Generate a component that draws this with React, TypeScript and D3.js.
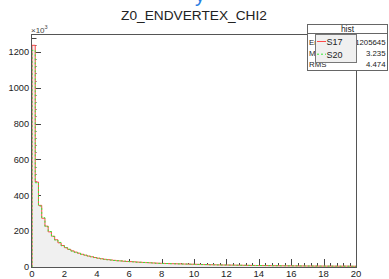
import React from "react";
import * as d3 from "d3";

// bin contents, units of 10^3, 100 bins from 0 to 20
const S17 = [
  1237, 474, 344, 272, 228, 196, 172, 152, 135, 120,
  108, 98, 90, 83, 77, 71, 66, 61, 57, 53,
  49, 46, 43, 41, 39, 37, 35, 34, 32, 31,
  30, 29, 27.5, 26.5, 25.5, 24.5, 23.5, 22.5, 21.5, 20.5,
  20, 19.5, 19, 18.5, 18, 17.5, 17, 16.5, 16, 15.5,
  15, 14.5, 14, 13.5, 13, 12.5, 12.2, 11.8, 11.5, 11.2,
  11, 10.7, 10.4, 10.1, 9.8, 9.5, 9.2, 8.9, 8.6, 8.4,
  8.2, 8, 7.8, 7.6, 7.4, 7.2, 7, 6.8, 6.6, 6.5,
  6.4, 6.2, 6, 5.9, 5.8, 5.6, 5.5, 5.4, 5.3, 5.2,
  5.1, 5, 4.9, 4.8, 4.7, 4.6, 5.2, 5.0, 4.3, 4.2,
];
const S20 = [
  1209, 470, 340, 275, 225, 198, 170, 150, 137, 118,
  107, 99, 89, 82, 78, 70, 66, 60, 57, 52,
  49, 45.5, 43, 40.5, 39, 36.5, 35, 33.5, 32, 30.5,
  29.5, 29, 27, 26.5, 25, 24.5, 23, 22.5, 21, 20.5,
  19.5, 19.5, 18.5, 18.5, 17.5, 17.5, 16.5, 16.5, 15.5, 15.5,
  14.5, 14.5, 13.5, 13.5, 12.5, 12.5, 12, 11.8, 11.2, 11.2,
  10.8, 10.7, 10.2, 10.1, 9.6, 9.5, 9, 8.9, 8.5, 8.4,
  8, 8, 7.6, 7.6, 7.2, 7.2, 6.8, 6.8, 6.5, 6.5,
  6.2, 6.2, 5.9, 5.9, 5.6, 5.6, 5.4, 5.4, 5.2, 5.2,
  5, 5, 4.8, 4.8, 4.6, 4.6, 4.5, 4.5, 4.2, 4.2,
];
const xTicks = [0, 2, 4, 6, 8, 10, 12, 14, 16, 18, 20];
const yTicks = [0, 200, 400, 600, 800, 1000, 1200];
const statsLabels = ["Entries", "Mean", "RMS"];
const statsValues = ["1205645", "3.235", "4.474"];
const legendNames = ["S17", "S20"];

const W = 389, H = 279;
const margin = { top: 34, right: 33, bottom: 12, left: 32 };
const font = "'Liberation Sans', Arial, sans-serif";

export default function App() {
  const x = d3.scaleLinear().domain([0, 20]).range([margin.left, W - margin.right]);
  const y = d3.scaleLinear().domain([0, 1300]).range([H - margin.bottom, margin.top]);
  const binW = 20 / S17.length;

  const pts = (vals: number[]) => {
    const p = vals.map((v, i) => [i * binW, v] as [number, number]);
    p.push([20, vals[vals.length - 1]]);
    return p;
  };
  const area = d3.area<[number, number]>()
    .x(d => x(d[0])).y0(y(0)).y1(d => y(d[1]))
    .curve(d3.curveStepAfter);
  const line = d3.line<[number, number]>()
    .x(d => x(d[0])).y(d => y(d[1]))
    .curve(d3.curveStepAfter);
  const withBase = (vals: number[]) => [[0, 0] as [number, number], ...pts(vals), [20, 0] as [number, number]];

  const yMinor = d3.range(0, 1300, 40);
  const xMinor = d3.range(0, 20.01, 0.4);
  const x0 = x(0), x1 = x(20), y0 = y(0), yTop = margin.top;

  return (
    <svg width={W} height={H} style={{ position: "absolute", left: 0, top: 0, background: "#fff" }}
      fontFamily={font}>
      {/* fragment of upper text in blue */}
      <text x={200} y={2} fontSize={20} fill="#2a7de1" textAnchor="middle">y</text>
      <text x={194} y={20} fontSize={13.7} textAnchor="middle" fill="#222">Z0_ENDVERTEX_CHI2</text>

      {/* ticks (drawn under histogram fill) */}
      <g stroke="#444" strokeWidth={1}>
        {yMinor.map(v => {
          const major = v % 200 === 0;
          return <line key={"ym" + v} x1={x0} x2={x0 + (major ? 9 : 4.5)} y1={Math.round(y(v)) + 0.5} y2={Math.round(y(v)) + 0.5} />;
        })}
        {xMinor.map(v => {
          const major = Math.abs(v / 2 - Math.round(v / 2)) < 1e-6;
          return <line key={"xm" + v} x1={Math.round(x(v)) + 0.5} x2={Math.round(x(v)) + 0.5} y1={y0} y2={y0 - (major ? 8 : 4)} />;
        })}
      </g>

      <path d={area(pts(S17)) || ""} fill="#f0f0f0" />
      <path d={area(pts(S20)) || ""} fill="#f0f0f0" />
      <path d={line(withBase(S17)) || ""} fill="none" stroke="#ff4a4a" strokeWidth={1} />
      <path d={line(withBase(S20)) || ""} fill="none" stroke="#33ee33" strokeWidth={1} strokeDasharray="2,2" />

      {/* frame */}
      <rect x={x0 - 0.5} y={yTop + 0.5} width={x1 - x0 + 1} height={y0 - yTop} fill="none" stroke="#555" strokeWidth={1} />

      {yTicks.map(v => (
        <text key={"yl" + v} x={29} y={y(v) + 3.3} fontSize={9.2} textAnchor="end" fill="#222">{v}</text>
      ))}
      {xTicks.map(v => (
        <text key={"xl" + v} x={x(v)} y={277} fontSize={9.5} textAnchor="middle" fill="#222">{v}</text>
      ))}
      <text x={31} y={32.5} fontSize={8} fill="#444">×10<tspan dy={-3.5} fontSize={5.5}>3</tspan></text>

      {/* stats box */}
      <rect x={307.5} y={24.5} width={80} height={46} fill="#fff" stroke="#666" strokeWidth={1} />
      <line x1={307.5} x2={387.5} y1={33.5} y2={33.5} stroke="#666" />
      <text x={347.5} y={31.5} fontSize={8.5} textAnchor="middle" fill="#222">hist</text>
      {statsLabels.map((l, i) => (
        <g key={l}>
          <text x={309} y={44.5 + i * 11.3} fontSize={7.8} fill="#222">{l}</text>
          <text x={385.5} y={44.5 + i * 11.3} fontSize={7.8} textAnchor="end" fill="#222">{statsValues[i]}</text>
        </g>
      ))}

      {/* legend */}
      <rect x={315.5} y={34.5} width={41} height={28} fill="#f0f0f0" stroke="#777" strokeWidth={1} />
      {legendNames.map((n, i) => (
        <g key={n}>
          <line x1={317} x2={326} y1={41.5 + i * 12.7} y2={41.5 + i * 12.7}
            stroke={i === 0 ? "#ff4a4a" : "#33ee33"} strokeDasharray={i === 0 ? undefined : "2,2"} />
          <text x={326.5} y={44.8 + i * 12.7} fontSize={9} fill="#222">{n}</text>
        </g>
      ))}
    </svg>
  );
}
